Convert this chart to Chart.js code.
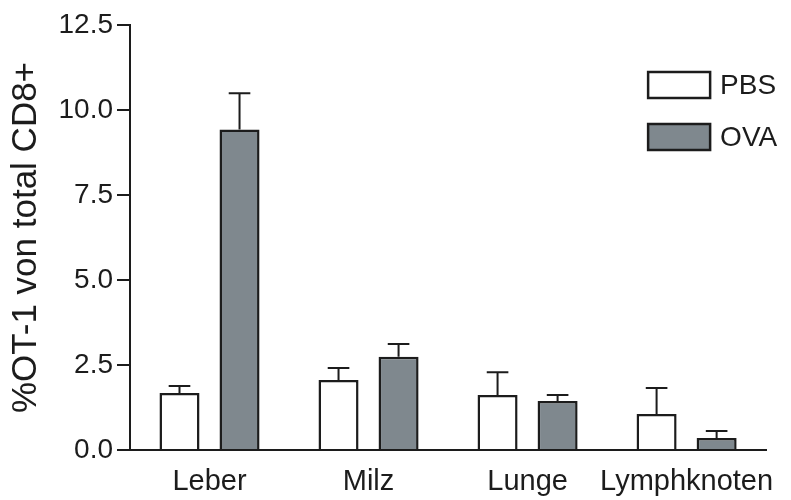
<!DOCTYPE html>
<html>
<head>
<meta charset="utf-8">
<style>
  html, body { margin: 0; padding: 0; background: #ffffff; }
  #wrap { width: 791px; height: 500px; position: relative; }
</style>
<script src="https://cdn.jsdelivr.net/npm/chart.js@4/dist/chart.umd.min.js"></script>
</head>
<body>
<div id="wrap"><canvas id="chart" width="791" height="500"></canvas></div>
<script>
// Organs sampled
const categories = ['Leber', 'Milz', 'Lunge', 'Lymphknoten'];

// Mean %OT-1 of total CD8+ per group
const pbsMean = [1.68, 2.06, 1.62, 1.06];
const ovaMean = [9.43, 2.74, 1.44, 0.35];

// Standard error (drawn upward only)
const pbsErr = [0.20, 0.35, 0.67, 0.76];
const ovaErr = [1.06, 0.38, 0.18, 0.21];

// Y axis tick labels
const yTickLabels = ['0.0', '2.5', '5.0', '7.5', '10.0', '12.5'];

const FONT = "'Liberation Sans', Arial, Helvetica, sans-serif";
const INK = '#1c1c1c';
const OVA_FILL = '#7f888e';

// Upward error bars with a cap, positioned through the chart's own scales
const errorBars = {
  id: 'errorBars',
  afterDatasetsDraw(chart) {
    const ctx = chart.ctx;
    const yScale = chart.scales.y;
    chart.data.datasets.forEach((ds, di) => {
      const meta = chart.getDatasetMeta(di);
      meta.data.forEach((bar, i) => {
        const top = yScale.getPixelForValue(ds.data[i] + ds.errors[i]);
        const base = bar.y;
        const capHalf = bar.width * 0.27;
        ctx.save();
        ctx.strokeStyle = INK;
        ctx.lineWidth = 2;
        ctx.beginPath();
        ctx.moveTo(bar.x, base);
        ctx.lineTo(bar.x, top);
        ctx.moveTo(bar.x - capHalf, top);
        ctx.lineTo(bar.x + capHalf, top);
        ctx.stroke();
        ctx.restore();
      });
    });
  }
};

// Boxed legend at the upper right of the plot
const boxLegend = {
  id: 'boxLegend',
  afterDraw(chart) {
    const ctx = chart.ctx;
    const area = chart.chartArea;
    const boxW = 62, boxH = 26, gap = 26;
    const x0 = area.right - 118;
    let y0 = area.top + 47;
    ctx.save();
    chart.data.datasets.forEach((ds) => {
      ctx.fillStyle = ds.backgroundColor;
      ctx.fillRect(x0, y0, boxW, boxH);
      ctx.strokeStyle = INK;
      ctx.lineWidth = 2.5;
      ctx.strokeRect(x0, y0, boxW, boxH);
      ctx.fillStyle = INK;
      ctx.font = '28px ' + FONT;
      ctx.textBaseline = 'middle';
      ctx.textAlign = 'left';
      ctx.fillText(ds.label, x0 + boxW + 10, y0 + boxH / 2 + 1);
      y0 += boxH + gap;
    });
    ctx.restore();
  }
};

new Chart(document.getElementById('chart'), {
  type: 'bar',
  data: {
    labels: categories,
    datasets: [
      {
        label: 'PBS',
        data: pbsMean,
        errors: pbsErr,
        backgroundColor: '#ffffff',
        borderColor: INK,
        borderWidth: 2.5,
        borderSkipped: 'start'
      },
      {
        label: 'OVA',
        data: ovaMean,
        errors: ovaErr,
        backgroundColor: OVA_FILL,
        borderColor: INK,
        borderWidth: 2.5,
        borderSkipped: 'start'
      }
    ]
  },
  options: {
    responsive: false,
    animation: false,
    devicePixelRatio: 1,
    categoryPercentage: 0.755,
    barPercentage: 0.667,
    layout: { padding: { top: 25, right: 23, bottom: 0, left: 0 } },
    plugins: {
      legend: { display: false },
      tooltip: { enabled: false }
    },
    scales: {
      x: {
        grid: { display: false, drawTicks: false },
        border: { display: true, color: INK, width: 2 },
        ticks: {
          color: INK,
          font: { family: FONT, size: 29 },
          padding: 15,
          autoSkip: false,
          maxRotation: 0,
          minRotation: 0
        },
        afterFit(scale) { scale.height = 50; }
      },
      y: {
        min: 0,
        max: 12.5,
        grid: {
          display: true,
          drawOnChartArea: false,
          drawTicks: true,
          tickLength: 13,
          color: INK,
          lineWidth: 2
        },
        border: { display: true, color: INK, width: 2 },
        ticks: {
          stepSize: 2.5,
          color: INK,
          font: { family: FONT, size: 28 },
          padding: 4,
          callback: (v, i) => yTickLabels[i]
        },
        title: {
          display: true,
          text: '%OT-1 von total CD8+',
          color: INK,
          font: { family: FONT, size: 35 },
          padding: { top: 5, bottom: 0 }
        },
        afterFit(scale) { scale.width = 130; }
      }
    }
  },
  plugins: [errorBars, boxLegend]
});
</script>
</body>
</html>
